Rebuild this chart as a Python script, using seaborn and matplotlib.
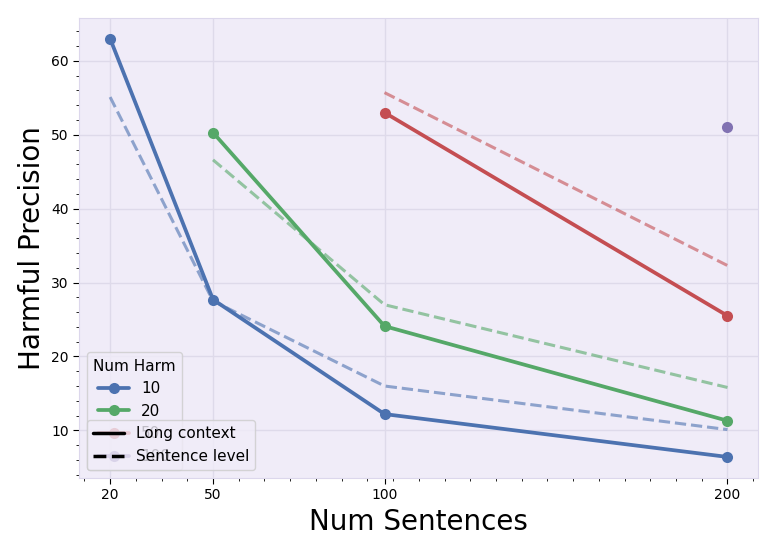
import pandas as pd
import seaborn as sns
import matplotlib.pyplot as plt
from matplotlib.lines import Line2D
from matplotlib.ticker import AutoMinorLocator

# 数据
num_harm = ["10", "20", "50", "100"]
palette = {"10": "#4C72B0", "20": "#55A868", "50": "#C44E52", "100": "#8172B2"}

x_10 = [20, 50, 100, 200]
long_10 = [63.0, 27.7, 12.2, 6.4]
sent_10 = [55.1, 27.5, 16.0, 10.1]

x_20 = [50, 100, 200]
long_20 = [50.3, 24.1, 11.3]
sent_20 = [46.6, 27.0, 15.8]

x_50 = [100, 200]
long_50 = [53.0, 25.5]
sent_50 = [55.7, 32.3]

x_100 = [200]
long_100 = [51.0]
sent_100 = [51.0]

x_ticks = [20, 50, 100, 200]


def build_frame():
    rows = []
    groups = [("10", x_10, long_10, sent_10), ("20", x_20, long_20, sent_20),
              ("50", x_50, long_50, sent_50), ("100", x_100, long_100, sent_100)]
    for h, xs, lc, sl in groups:
        for x, a, b in zip(xs, lc, sl):
            rows.append({"Num Harm": h, "Num Sentences": x, "Type": "Long context", "Precision": a})
            rows.append({"Num Harm": h, "Num Sentences": x, "Type": "Sentence level", "Precision": b})
    return pd.DataFrame(rows)


def main():
    df = build_frame()
    sns.set_style("darkgrid")
    plt.rcParams.update({
        "axes.facecolor": "#F0ECF8",
        "axes.edgecolor": "#DCD7EC",
        "grid.color": "#DEDAEA",
        "grid.linewidth": 1.0,
        "text.color": "black",
        "axes.labelcolor": "black",
        "xtick.bottom": True,
        "ytick.left": True,
        "xtick.color": "black",
        "ytick.color": "black",
        "xtick.major.size": 4,
        "ytick.major.size": 4,
        "xtick.minor.size": 2.5,
        "ytick.minor.size": 2.5,
    })

    fig = plt.figure(figsize=(7.77, 5.55), dpi=100)
    ax = fig.add_axes([0.102, 0.139, 0.874, 0.829])

    # 长上下文：实线 + 圆点
    long_df = df[df["Type"] == "Long context"]
    sns.lineplot(data=long_df, x="Num Sentences", y="Precision", hue="Num Harm",
                 hue_order=num_harm, palette=palette, marker="o", markersize=8,
                 markeredgewidth=0, linewidth=2.7, legend=False, ax=ax)

    # 句子级别：虚线，半透明
    sent_df = df[df["Type"] == "Sentence level"]
    for h in num_harm:
        sub = sent_df[sent_df["Num Harm"] == h]
        if len(sub) < 2:
            continue
        sns.lineplot(data=sub, x="Num Sentences", y="Precision", color=palette[h],
                     linestyle="--", linewidth=2.2, alpha=0.6, legend=False, ax=ax)

    ax.set_xticks(x_ticks)
    ax.set_xticklabels([str(t) for t in x_ticks])
    ax.xaxis.set_minor_locator(AutoMinorLocator())
    ax.yaxis.set_minor_locator(AutoMinorLocator())
    ax.grid(which="minor", visible=False)
    ax.tick_params(axis="both", which="both", direction="out", labelsize=10, labelcolor="black")
    ax.tick_params(axis="both", which="minor", length=2.5, color="black")

    ax.set_xlabel("Num Sentences", fontsize=20, color="black")
    ax.set_ylabel("Harmful Precision", fontsize=20, color="black")

    hue_handles = [Line2D([], [], color=palette[h], marker="o", markersize=8,
                          markeredgewidth=0, linewidth=2.7) for h in num_harm]
    leg1 = ax.legend(hue_handles, num_harm, title="Num Harm", loc="lower left",
                     fontsize=11, title_fontsize=11)
    ax.add_artist(leg1)

    style_handles = [Line2D([], [], color="black", linewidth=2.5),
                     Line2D([], [], color="black", linewidth=2.5, linestyle="--")]
    ax.legend(style_handles, ["Long context", "Sentence level"], loc="lower left", fontsize=11)

    plt.savefig("out.png", dpi=100)


if __name__ == '__main__':
    main()
